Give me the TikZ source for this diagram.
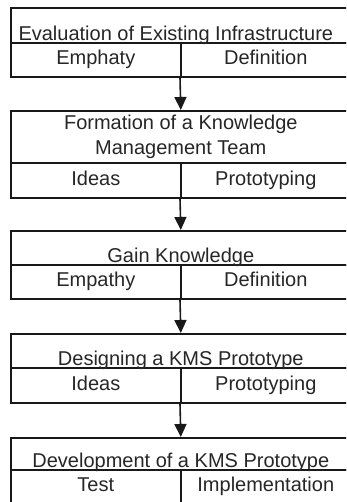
\documentclass[tikz,border=0pt]{standalone}
\usepackage{fontspec}
\setmainfont{Liberation Sans}
\usetikzlibrary{arrows.meta}

\tikzset{
  head/.style={draw=black!90, line width=1.6pt, inner sep=0pt, minimum width=340pt, anchor=north west},
  half/.style={draw=black!90, line width=1.6pt, inner sep=0pt, minimum width=170pt, anchor=north west,
    text height=14pt, text depth=4pt},
  label/.style={inner sep=0pt, anchor=base},
  flow/.style={-{Triangle[length=13pt,width=12pt]}, line width=1.6pt, draw=black!90, fill=black!90}
}

\begin{document}
\begin{tikzpicture}[x=1pt, y=-1pt, font=\fontsize{20}{25}\selectfont, text=black!85]
\useasboundingbox (0,0) rectangle (346,502);
\clip (0,0) rectangle (346,502);

\node [head, minimum height=35pt] (evalT) at (10,7) {};
\node [half, minimum height=34pt] (evalL) at (10,42) {Emphaty};
\node [half, minimum height=34pt] (evalR) at (180,42) {Definition};
\node [label, xshift=-5pt, yshift=3pt] (evalTxt) at (evalT.south) {Evaluation of Existing Infrastructure};

\node [head, minimum height=52pt, align=center] (teamT) at (10,110) {Formation of a Knowledge\\Management Team};
\node [half, minimum height=35pt] (teamL) at (10,162) {Ideas};
\node [half, minimum height=35pt] (teamR) at (180,162) {Prototyping};

\node [head, minimum height=34pt] (gainT) at (10,230) {};
\node [half, minimum height=34pt] (gainL) at (10,264) {Empathy};
\node [half, minimum height=34pt] (gainR) at (180,264) {Definition};
\node [label, yshift=3pt] (gainTxt) at (gainT.south) {Gain Knowledge};

\node [head, minimum height=34pt] (designT) at (10,333) {};
\node [half, minimum height=35pt] (designL) at (10,367) {Ideas};
\node [half, minimum height=35pt] (designR) at (180,367) {Prototyping};
\node [label, yshift=3pt] (designTxt) at (designT.south) {Designing a KMS Prototype};

\node [head, minimum height=32pt] (devT) at (10,437) {};
\node [half, minimum height=34pt] (devL) at (10,469) {Test};
\node [half, minimum height=34pt] (devR) at (180,469) {Implementation};
\node [label, yshift=3pt] (devTxt) at (devT.south) {Development of a KMS Prototype};

\draw [flow] (evalR.south west) to (teamT.north);
\draw [flow] (teamR.south west) to (gainT.north);
\draw [flow] (gainR.south west) to (designT.north);
\draw [flow] (designR.south west) to (devT.north);

\end{tikzpicture}
\end{document}
